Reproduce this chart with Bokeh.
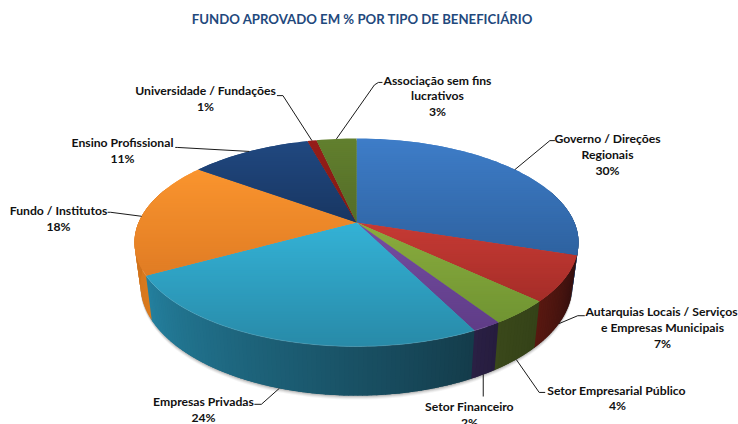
import math
from bokeh.plotting import figure
from bokeh.models import Range1d, ColumnDataSource
from bokeh.core.properties import value
from bokeh.embed import file_html
from bokeh.resources import INLINE

# ---- data ----
title = "FUNDO APROVADO EM % POR TIPO DE BENEFICIÁRIO"
categories = ["Governo / Direções Regionais", "Autarquias Locais / Serviços e Empresas Municipais",
              "Setor Empresarial Público", "Setor Financeiro", "Empresas Privadas",
              "Fundo / Institutos", "Ensino Profissional", "Universidade / Fundações",
              "Associação sem fins lucrativos"]
values = [30.0, 7.0, 3.8, 1.8, 24.4, 18.0, 10.7, 0.8, 3.5]
percent_labels = ["30%", "7%", "4%", "2%", "24%", "18%", "11%", "1%", "3%"]

# ---- styles ----
top_a = [(62,125,200),(198,58,52),(138,172,62),(118,78,162),(52,178,214),(250,148,46),(32,72,128),(150,30,25),(98,128,46)]
top_b = [(46,98,160),(165,45,40),(112,148,50),(95,60,135),(40,138,168),(224,124,36),(24,54,98),(130,25,20),(84,108,40)]
wall_a = [(25,50,85),(50,15,14),(52,66,24),(38,28,62),(20,60,75),(218,122,30),(20,40,70),(90,20,15),(50,60,20)]
wall_b = [(35,60,100),(88,24,16),(58,72,26),(42,32,68),(36,128,158),(190,102,28),(20,40,70),(90,20,15),(50,60,20)]
leader_color = "#1a1a1a"
text_color = "#111111"
title_color = "#1f497d"
FONT = "Lato"

W, H = 738, 424
p = figure(width=W, height=H, output_backend="svg", toolbar_location=None,
           x_range=Range1d(0, W), y_range=Range1d(H, 0),
           x_axis_type=None, y_axis_type=None, min_border=0,
           outline_line_color=None, background_fill_color="white", border_fill_color="white")
p.grid.visible = False

# ---- perspective disc geometry ----
CX, CY, K = 356.0, 222.0, 0.1923
TOP = (CX, CY, 217.9, 100.15)
BOT = (CX, 263.0, 212.0, 106.7)

def proj(deg, disc, r=1.0):
    t = math.radians(deg)
    X, Y = r * math.sin(t), r * math.cos(t)
    d = 1 + K * Y
    return disc[0] + disc[2] * X / d, disc[1] - disc[3] * Y / d

def lerp(a, b, f):
    return tuple(int(round(a[i] + (b[i] - a[i]) * f)) for i in range(3))

def hexc(c):
    return "#%02x%02x%02x" % c

def clip(poly, y0, y1):
    def half(pts, keep, cross):
        out = []
        for i in range(len(pts)):
            a, b = pts[i], pts[(i + 1) % len(pts)]
            if keep(a):
                out.append(a)
            if keep(a) != keep(b):
                f = (cross - a[1]) / (b[1] - a[1])
                out.append((a[0] + (b[0] - a[0]) * f, cross))
        return out
    r = half(poly, lambda q: q[1] >= y0, y0)
    if r:
        r = half(r, lambda q: q[1] <= y1, y1)
    return r

total = sum(values)
edges = [0.0]
for v in values:
    edges.append(edges[-1] + v / total * 360.0)

# soft shadow under the disc
for off, alpha in ((4, 0.06), (3, 0.08), (2, 0.12), (1, 0.16)):
    pts = [proj(a, BOT) for a in range(60, 301, 2)]
    p.patch([q[0] for q in pts], [q[1] + off for q in pts], fill_color="#404040",
            fill_alpha=alpha, line_color=None)

# side wall: strips overlap the next one, which is painted over them
wx, wy, wc = [], [], []
for i in range(len(values)):
    s, e = edges[i], edges[i + 1]
    lo, hi = max(s, 70.0), min(e, 290.0)
    if hi <= lo:
        continue
    n = max(1, int(hi - lo))
    for j in range(n):
        a0 = lo + (hi - lo) * j / n
        a1 = lo + (hi - lo) * (j + 1) / n + 1.2
        arc = [a0, (a0 + a1) / 2, a1]
        q = [proj(a, TOP) for a in arc] + [proj(a, BOT) for a in reversed(arc)]
        wx.append([c[0] for c in q])
        wy.append([c[1] for c in q])
        wc.append(hexc(lerp(wall_a[i], wall_b[i], ((lo + (hi - lo) * (j + 0.5) / n) - s) / (e - s))))
p.patches("x", "y", source=ColumnDataSource(dict(x=wx, y=wy, c=wc)), fill_color="c", line_color=None)

# top face: overlapping horizontal bands, each painted over the previous one
fx, fy, fc = [], [], []
for i in range(len(values)):
    s, e = edges[i], edges[i + 1]
    n = max(2, int((e - s) / 1.5))
    poly = [(CX, CY)] + [proj(s + (e - s) * j / n, TOP) for j in range(n + 1)]
    ymin, ymax = min(q[1] for q in poly), max(q[1] for q in poly)
    y = ymin
    while y < ymax:
        band = clip(poly, y, min(y + 4, ymax))
        if len(band) >= 3:
            fx.append([q[0] for q in band])
            fy.append([q[1] for q in band])
            fc.append(hexc(lerp(top_a[i], top_b[i], (y + 1 - ymin) / (ymax - ymin))))
        y += 2
p.patches("x", "y", source=ColumnDataSource(dict(x=fx, y=fy, c=fc)), fill_color="c", line_color=None)

# faint highlight along the front rim
rim = [proj(a, TOP) for a in range(150, 245, 2)]
p.line([q[0] for q in rim], [q[1] for q in rim], line_color="white", line_alpha=0.15, line_width=1)

# leader lines: (slice, disc the line starts from, elbow offsets from that start)
leaders = [(0, TOP, [(35, -29), (40, -29)]),
           (1, BOT, [(19, -8), (26, -8)]),
           (2, BOT, [(23, 33), (29, 33)]),
           (3, BOT, [(0, 22)]),
           (4, BOT, [(-18, 16), (-25, 16)]),
           (5, TOP, [(-31, -4), (-34, -4)]),
           (6, TOP, [(-72, -4), (-74, -4)]),
           (7, TOP, [(-29, -45), (-35, -45)]),
           (8, TOP, [(38, -54), (42, -56.5), (46, -56.5)])]
for i, disc, offs in leaders:
    x0, y0 = proj((edges[i] + edges[i + 1]) / 2, disc)
    p.line([x0] + [x0 + o[0] for o in offs], [y0] + [y0 + o[1] for o in offs],
           line_color=leader_color, line_width=1)

# texts
rows = [("Governo / Direções", 607, 138), ("Regionais", 607, 154), (percent_labels[0], 607, 170),
        ("Autarquias Locais / Serviços", 661, 311), ("e Empresas Municipais", 662, 327), (percent_labels[1], 662, 343),
        ("Setor Empresarial Público", 616, 390), (percent_labels[2], 617, 405),
        ("Setor Financeiro", 469, 406), (percent_labels[3], 469, 422),
        ("Empresas Privadas", 203, 401), (percent_labels[4], 203, 417),
        ("Fundo / Institutos", 58, 210), (percent_labels[5], 58, 226),
        ("Ensino Profissional", 122, 142), (percent_labels[6], 122, 158),
        ("Universidade / Fundações", 205, 90), (percent_labels[7], 205, 106),
        ("Associação sem fins", 437, 80), ("lucrativos", 437, 95), (percent_labels[8], 437, 111)]
p.text([r[1] for r in rows], [r[2] for r in rows], text=[r[0] for r in rows],
       text_font=value(FONT), text_font_style="bold", text_font_size="12.2px",
       text_color=text_color, text_align="center", text_baseline="middle")
p.text([362], [18], text=[title], text_font=value(FONT), text_font_style="bold",
       text_font_size="13.2px", text_color=title_color, text_align="center", text_baseline="middle")

open("out.html", "w").write(file_html(p, INLINE))
